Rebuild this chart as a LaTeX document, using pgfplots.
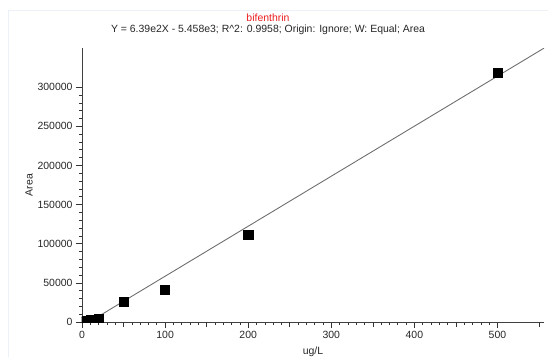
\documentclass[border=0pt]{standalone}
\usepackage{pgfplots}
\pgfplotsset{compat=1.18}
\usepackage{fontspec}
\setmainfont{Liberation Sans}

\definecolor{fitgray}{RGB}{110,110,110}
\definecolor{framecol}{RGB}{236,240,247}
\definecolor{titlered}{RGB}{235,30,30}

\begin{document}
\begin{tikzpicture}[x=1bp,y=1bp]
% overall extent; the axis box has its lower left corner at the origin
\useasboundingbox (-82,-34) rectangle (466,322);
\draw[framecol, line width=1pt] (-74,-40) -- (-74,312) -- (470,312);

\begin{axis}[
  at={(0,0)}, anchor=south west,
  scale only axis,
  width=462bp, height=274bp,
  xmin=0, xmax=556,
  ymin=0, ymax=350000,
  axis lines*=left,
  axis line style={draw=black!75, line width=0.8pt},
  tick align=outside,
  tick style={black!80, line width=0.6pt},
  major tick length=6bp,
  minor tick length=3bp,
  xtick={0,100,200,300,400,500},
  minor x tick num=9,
  extra x ticks={50,150,250,350,450,550},
  extra x tick labels={},
  extra x tick style={major tick length=4.5bp},
  ytick={0,50000,100000,150000,200000,250000,300000},
  minor y tick num=4,
  scaled y ticks=false,
  /pgf/number format/assume math mode=true,
  yticklabel style={/pgf/number format/.cd, fixed, 1000 sep={}},
  ticklabel style={font=\fontsize{10.5}{12}\selectfont, text=black!85},
  xlabel={ug/L},
  ylabel={Area},
  label style={font=\fontsize{10.5}{12}\selectfont, text=black!85},
  xlabel style={yshift=9bp},
  ylabel style={yshift=-2bp},
  clip marker paths=true,
]
% least-squares fit: Y = 639 X - 5458
\addplot[fitgray, line width=0.9pt] coordinates {(0,-5458) (556,349826)};

% calibration standards
\addplot[only marks, mark=square*, mark size=4.6bp, black] coordinates {
  (1,500) (2,900) (5,1600) (10,2500) (20,3800)
  (50,25500) (100,41000) (200,112000) (500,318000)
};
\end{axis}

% titles
\node[text=titlered, font=\fontsize{10.5}{12}\selectfont] at (186,304) {bifenthrin};
\node[text=black!85, font=\fontsize{10.5}{12}\selectfont] at (186,292)
  {Y = 6.39e2X - 5.458e3; R\textasciicircum 2: 0.9958; Origin: Ignore; W: Equal; Area};
\end{tikzpicture}
\end{document}
